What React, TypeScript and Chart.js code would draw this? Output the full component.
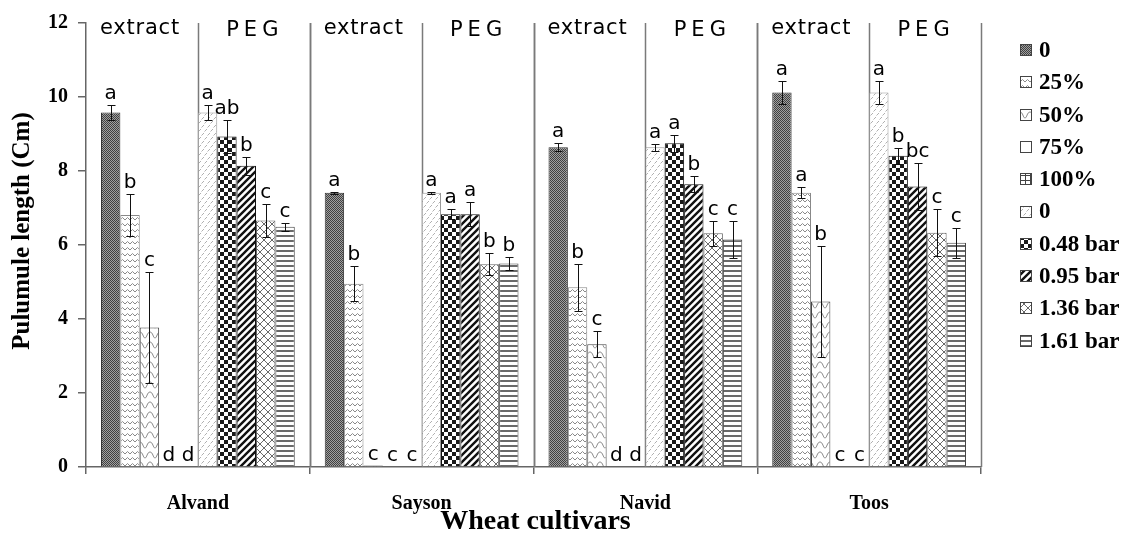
import React, { useEffect, useRef } from "react";
import { Chart, registerables } from "chart.js";
Chart.register(...registerables);

const cultivars = ["Alvand", "Sayson", "Navid", "Toos"];
const seriesNames = ["0", "25%", "50%", "75%", "100%", "0", "0.48 bar", "0.95 bar", "1.36 bar", "1.61 bar"];
const groupTitles = ["extract", "PEG"];
const yTicks = [0, 2, 4, 6, 8, 10, 12];

const ext0 = [9.58, 7.41, 8.64, 10.12];
const ext0Err = [0.2, 0.02, 0.11, 0.32];
const ext0Letters = ["a", "a", "a", "a"];
const ext25 = [6.81, 4.95, 4.86, 7.41];
const ext25Err = [0.57, 0.47, 0.64, 0.15];
const ext25Letters = ["b", "b", "b", "a"];
const ext50 = [3.77, 0.04, 3.32, 4.47];
const ext50Err = [1.5, 0, 0.36, 1.5];
const ext50Letters = ["c", "c", "c", "b"];
const ext75 = [0, 0, 0, 0];
const ext75Err = [0, 0, 0, 0];
const ext75Letters = ["d", "c", "d", "c"];
const ext100 = [0, 0, 0, 0];
const ext100Err = [0, 0, 0, 0];
const ext100Letters = ["d", "c", "d", "c"];
const peg0 = [9.58, 7.41, 8.64, 10.12];
const peg0Err = [0.2, 0.03, 0.09, 0.32];
const peg0Letters = ["a", "a", "a", "a"];
const peg048 = [8.93, 6.83, 8.75, 8.41];
const peg048Err = [0.45, 0.13, 0.23, 0.22];
const peg048Letters = ["ab", "a", "a", "b"];
const peg095 = [8.14, 6.83, 7.64, 7.58];
const peg095Err = [0.24, 0.32, 0.22, 0.63];
const peg095Letters = ["b", "a", "b", "bc"];
const peg136 = [6.66, 5.48, 6.32, 6.33];
const peg136Err = [0.45, 0.3, 0.34, 0.64];
const peg136Letters = ["c", "b", "c", "c"];
const peg161 = [6.49, 5.5, 6.15, 6.06];
const peg161Err = [0.1, 0.17, 0.49, 0.41];
const peg161Letters = ["c", "b", "c", "c"];

const seriesValues = [ext0, ext25, ext50, ext75, ext100, peg0, peg048, peg095, peg136, peg161];
const seriesErrors = [ext0Err, ext25Err, ext50Err, ext75Err, ext100Err, peg0Err, peg048Err, peg095Err, peg136Err, peg161Err];
const seriesLetters = [ext0Letters, ext25Letters, ext50Letters, ext75Letters, ext100Letters, peg0Letters, peg048Letters, peg095Letters, peg136Letters, peg161Letters];
const borderColors = ["#333", "#888", "#444", "#333", "#333", "#999", "#111", "#111", "#666", "#444"];

type Drawer = (g: CanvasRenderingContext2D, w: number, h: number) => void;

function tile(ctx: CanvasRenderingContext2D, w: number, h: number, draw: Drawer) {
  const c = document.createElement("canvas");
  c.width = w;
  c.height = h;
  const g = c.getContext("2d") as CanvasRenderingContext2D;
  g.fillStyle = "#fff";
  g.fillRect(0, 0, w, h);
  draw(g, w, h);
  return ctx.createPattern(c, "repeat") as CanvasPattern;
}

function makePatterns(ctx: CanvasRenderingContext2D) {
  const p: (CanvasPattern | string)[] = [];
  // 0 extract: fine dark dotted
  p.push(
    tile(ctx, 2, 2, (g) => {
      g.fillStyle = "#a0a0a0";
      g.fillRect(0, 0, 2, 2);
      g.fillStyle = "#404040";
      g.fillRect(0, 0, 1, 1);
      g.fillRect(1, 1, 1, 1);
    })
  );
  // 25% zigzag
  p.push(
    tile(ctx, 5, 6, (g) => {
      g.strokeStyle = "#8a8a8a";
      g.lineWidth = 1;
      g.beginPath();
      g.moveTo(0, 4);
      g.lineTo(2.5, 1.5);
      g.lineTo(5, 4);
      g.stroke();
    })
  );
  // 50% big wave
  p.push(
    tile(ctx, 10, 10, (g) => {
      g.strokeStyle = "#8a8a8a";
      g.lineWidth = 1;
      g.beginPath();
      g.moveTo(0, 2);
      g.bezierCurveTo(3, 2, 3, 8, 5, 8);
      g.bezierCurveTo(7, 8, 7, 2, 10, 2);
      g.stroke();
    })
  );
  // 75% white
  p.push("#ffffff");
  // 100% grid
  p.push(
    tile(ctx, 5, 5, (g) => {
      g.fillStyle = "#444";
      g.fillRect(0, 0, 5, 1);
      g.fillRect(0, 0, 1, 5);
    })
  );
  // PEG 0 light dashes
  p.push(
    tile(ctx, 6, 8, (g) => {
      g.strokeStyle = "#b0b0b0";
      g.lineWidth = 1;
      g.beginPath();
      g.moveTo(0.5, 3.5);
      g.lineTo(3, 1);
      g.moveTo(3.5, 7.5);
      g.lineTo(6, 5);
      g.stroke();
    })
  );
  // 0.48 checkerboard
  p.push(
    tile(ctx, 8, 8, (g) => {
      g.fillStyle = "#1a1a1a";
      g.fillRect(0, 0, 4, 4);
      g.fillRect(4, 4, 4, 4);
    })
  );
  // 0.95 wide diagonal stripes
  p.push(
    tile(ctx, 7, 7, (g) => {
      g.strokeStyle = "#111";
      g.lineWidth = 2.4;
      g.beginPath();
      for (let k = -1; k <= 1; k++) {
        g.moveTo(-1 + k * 7, 8);
        g.lineTo(8 + k * 7, -1);
      }
      g.stroke();
    })
  );
  // 1.36 diamond crosshatch
  p.push(
    tile(ctx, 8, 8, (g) => {
      g.strokeStyle = "#6a6a6a";
      g.lineWidth = 1;
      g.beginPath();
      g.moveTo(0, 0);
      g.lineTo(8, 8);
      g.moveTo(0, 8);
      g.lineTo(8, 0);
      g.stroke();
    })
  );
  // 1.61 horizontal lines
  p.push(
    tile(ctx, 4, 5, (g) => {
      g.fillStyle = "#6a6a6a";
      g.fillRect(0, 0, 4, 2);
    })
  );
  return p;
}

export default function App() {
  const ref = useRef<HTMLCanvasElement | null>(null);

  useEffect(() => {
    const canvas = ref.current as HTMLCanvasElement;
    const ctx = canvas.getContext("2d") as CanvasRenderingContext2D;
    const patterns = makePatterns(ctx);

    const overlay = {
      id: "overlay",
      beforeDatasetsDraw(chart: any) {
        const { ctx: c, chartArea } = chart;
        const xs = chart.scales.x;
        const half = (xs.getPixelForValue(1) - xs.getPixelForValue(0)) / 2;
        c.save();
        c.strokeStyle = "#7a7a7a";
        c.lineWidth = 1.5;
        cultivars.forEach((_, i) => {
          const cx = xs.getPixelForValue(i);
          [cx - half, cx, cx + half].forEach((px) => {
            if (Math.abs(px - chartArea.left) < 1) return;
            c.beginPath();
            c.moveTo(Math.round(px) + 0.5, chartArea.top);
            c.lineTo(Math.round(px) + 0.5, chartArea.bottom);
            c.stroke();
          });
        });
        c.restore();
      },
      afterDatasetsDraw(chart: any) {
        const { ctx: c, chartArea } = chart;
        const ys = chart.scales.y;
        const xs = chart.scales.x;
        c.save();
        // error bars
        c.strokeStyle = "#111";
        c.lineWidth = 1;
        seriesValues.forEach((vals, di) => {
          const meta = chart.getDatasetMeta(di);
          vals.forEach((v, i) => {
            const e = seriesErrors[di][i];
            if (!e) return;
            const x = Math.round(meta.data[i].x) + 0.5;
            const yT = Math.round(ys.getPixelForValue(v + e)) + 0.5;
            const yB = Math.round(ys.getPixelForValue(v - e)) + 0.5;
            c.beginPath();
            c.moveTo(x, yT);
            c.lineTo(x, yB);
            c.moveTo(x - 4, yT);
            c.lineTo(x + 4, yT);
            c.moveTo(x - 4, yB);
            c.lineTo(x + 4, yB);
            c.stroke();
          });
        });
        // letters
        c.fillStyle = "#000";
        c.font = '20px "DejaVu Sans"';
        c.textAlign = "center";
        c.textBaseline = "alphabetic";
        seriesValues.forEach((vals, di) => {
          const meta = chart.getDatasetMeta(di);
          vals.forEach((v, i) => {
            const e = seriesErrors[di][i];
            const yT = ys.getPixelForValue(v + e);
            c.fillText(seriesLetters[di][i], meta.data[i].x, yT - 6);
          });
        });
        // group titles
        const half = (xs.getPixelForValue(1) - xs.getPixelForValue(0)) / 2;
        c.font = '21px "DejaVu Sans"';
        cultivars.forEach((_, i) => {
          const cx = xs.getPixelForValue(i);
          (c as any).letterSpacing = "0.8px";
          c.fillText(groupTitles[0], cx - half / 2 - 2, chartArea.top + 11);
          (c as any).letterSpacing = "5px";
          c.fillText(groupTitles[1], cx + half / 2 + 1, chartArea.top + 13);
        });
        (c as any).letterSpacing = "0px";
        c.restore();
      },
      afterDraw(chart: any) {
        const { ctx: c, chartArea } = chart;
        c.save();
        c.fillStyle = "#000";
        // axis titles
        c.font = 'bold 28px "Liberation Serif"';
        c.textAlign = "center";
        c.textBaseline = "alphabetic";
        c.fillText("Wheat cultivars", (chartArea.left + chartArea.right) / 2 + 2, 529);
        c.save();
        c.translate(23, 231);
        c.rotate(-Math.PI / 2);
        c.font = 'bold 25px "Liberation Serif"';
        c.textBaseline = "middle";
        c.fillText("Pulumule length (Cm)", 0, 0);
        c.restore();
        // legend
        const lx = chartArea.right + 39;
        c.font = 'bold 23px "Liberation Serif"';
        c.textAlign = "left";
        c.textBaseline = "middle";
        seriesNames.forEach((name, i) => {
          const cy = chartArea.top + 27 + i * 32.3;
          c.fillStyle = patterns[i];
          c.fillRect(lx, Math.round(cy - 6), 12, 12);
          c.strokeStyle = "#444";
          c.lineWidth = 1;
          c.strokeRect(lx + 0.5, Math.round(cy - 6) + 0.5, 11, 11);
          c.fillStyle = "#000";
          c.fillText(name, lx + 19, cy + 1);
        });
        c.restore();
      },
    };

    const chart = new Chart(ctx, {
      type: "bar",
      data: {
        labels: cultivars,
        datasets: seriesValues.map((vals, i) => ({
          label: seriesNames[i],
          data: vals,
          backgroundColor: patterns[i] as any,
          borderColor: borderColors[i],
          borderWidth: 1,
          categoryPercentage: 0.866,
          barPercentage: 1,
        })),
      },
      options: {
        responsive: false,
        animation: false,
        devicePixelRatio: 1,
        layout: { padding: { top: 23, right: 142, left: 0, bottom: 0 } },
        plugins: { legend: { display: false }, tooltip: { enabled: false }, title: { display: false } },
        scales: {
          x: {
            offset: true,
            grid: { display: true, drawOnChartArea: false, drawTicks: true, tickLength: 7, offset: true, color: "#666", lineWidth: 1.5 },
            border: { display: true, color: "#666", width: 1.5 },
            ticks: { color: "#000", font: { family: "Liberation Serif", size: 20, weight: "bold" }, padding: 18, maxRotation: 0 },
            afterFit: (s: any) => {
              s.height = 66;
            },
          },
          y: {
            min: 0,
            max: 12,
            afterBuildTicks: (s: any) => {
              s.ticks = yTicks.map((v) => ({ value: v }));
            },
            grid: { display: true, drawOnChartArea: false, drawTicks: true, tickLength: 8, color: "#666", lineWidth: 1.5 },
            border: { display: true, color: "#666", width: 1.5 },
            ticks: { color: "#000", font: { family: "Liberation Serif", size: 20, weight: "bold" }, padding: 10 },
            afterFit: (s: any) => {
              s.width = 86;
            },
          },
        },
      },
      plugins: [overlay],
    });
    return () => chart.destroy();
  }, []);

  return (
    <div style={{ position: "fixed", left: 0, top: 0, width: 1123, height: 533, background: "#fff" }}>
      <canvas ref={ref} width={1123} height={533} style={{ display: "block" }} />
    </div>
  );
}
